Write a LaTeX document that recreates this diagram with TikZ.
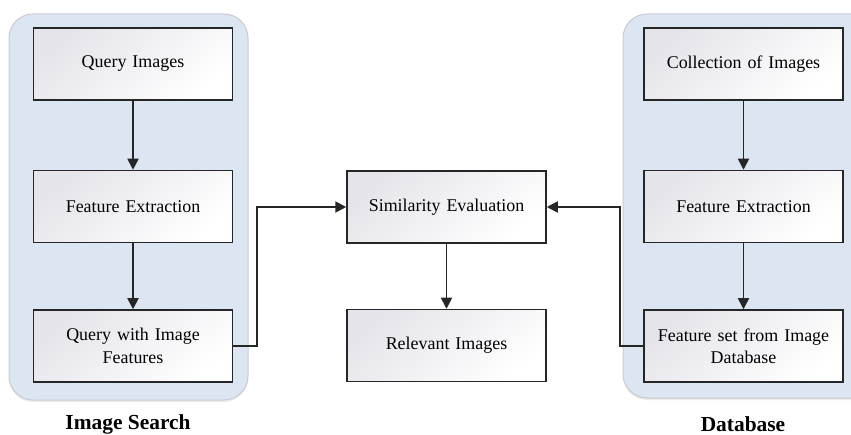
\documentclass[tikz,border=0pt]{standalone}
\usepackage{fontspec}
\setmainfont{Liberation Serif}
\usetikzlibrary{arrows.meta,shadows}
\definecolor{panelfill}{HTML}{DCE6F2}
\definecolor{panelline}{HTML}{C8CCD2}
\definecolor{boxline}{HTML}{262626}
\definecolor{boxtop}{HTML}{E4E4EA}
\tikzset{
  panel/.style={fill=panelfill, draw=panelline, line width=1bp, rounded corners=24bp},
  procbox/.style={draw=boxline, line width=1.5bp, minimum width=199bp, minimum height=72bp,
    inner sep=2bp, align=center, text width=190bp, font=\fontsize{18}{22.5}\selectfont,
    top color=boxtop, bottom color=white, shading angle=40},
  conn/.style={draw=boxline, line width=1.8bp, -{Triangle[length=11bp,width=11bp]}},
  paneltitle/.style={font=\fontsize{21.5}{25}\selectfont\bfseries}
}
\begin{document}
\begin{tikzpicture}[x=1bp,y=-1bp]
\useasboundingbox (0,0) rectangle (851,435);
\clip (0,0) rectangle (851,435);
\fill[white] (0,0) rectangle (851,435);
% panels
\draw[panel, drop shadow={shadow xshift=0bp, shadow yshift=-2bp, opacity=0.15}] (9,14) rectangle (248,400);
\draw[panel, drop shadow={shadow xshift=0bp, shadow yshift=-2bp, opacity=0.15}] (623,14) rectangle (880,398);
% boxes
\node[procbox] (qi)  at (133,64)    {Query Images};
\node[procbox] (fe1) at (133,206.5) {Feature Extraction};
\node[procbox] (qif) at (133,346)   {Query with Image\\Features};
\node[procbox] (se)  at (446.5,207) {Similarity Evaluation};
\node[procbox] (ri)  at (446.5,345.5) {Relevant Images};
\node[procbox] (ci)  at (743.5,64)  {Collection of Images};
\node[procbox] (fe2) at (743.5,206.5) {Feature Extraction};
\node[procbox] (fs)  at (743.5,346) {Feature set from Image\\Database};
% titles
\node[paneltitle] (t1) at (128,424) {Image Search};
\node[paneltitle] (t2) at (743,424) {Database};
% connectors
\coordinate (lj) at (257,346);
\coordinate (rj) at (620,346);
\draw[conn] (qi) -- (fe1);
\draw[conn] (fe1) -- (qif);
\draw[conn] (ci) -- (fe2);
\draw[conn] (fe2) -- (fs);
\draw[conn] (se) -- (ri);
\draw[conn] (qif.east) -- (lj) |- (se.west);
\draw[conn] (fs.west) -- (rj) |- (se.east);
\end{tikzpicture}
\end{document}
